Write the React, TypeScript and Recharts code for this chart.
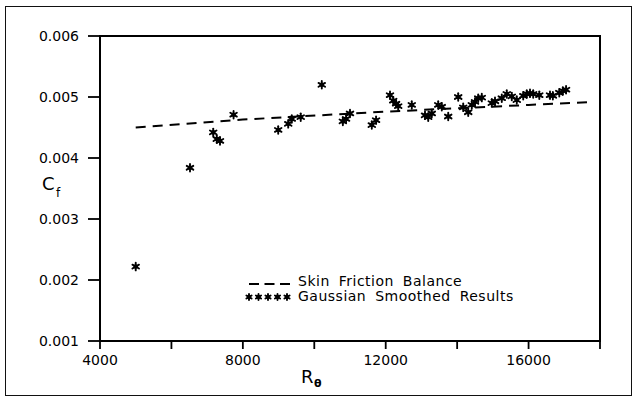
import React from 'react';
import { ComposedChart, Line, Scatter, XAxis, YAxis, ReferenceArea } from 'recharts';

// Gaussian smoothed results (R_theta, Cf)
const smoothedR = [
  5000, 6520, 7170, 7270, 7360, 7740, 8990, 9270, 9370, 9620,
  10210, 10800, 10890, 11000, 11610, 11730, 12120, 12210, 12290, 12350,
  12730, 13100, 13190, 13290, 13470, 13570, 13750, 14030, 14170, 14310,
  14410, 14500, 14590, 14690, 14970, 15060, 15250, 15390, 15530, 15670,
  15850, 15950, 16040, 16130, 16300, 16600, 16680, 16860, 16960, 17050,
];
const smoothedCf = [
  0.00222, 0.00384, 0.00442, 0.00431, 0.00428, 0.00471, 0.00446, 0.00456, 0.00464, 0.00467,
  0.0052, 0.0046, 0.00464, 0.00473, 0.00454, 0.00462, 0.00503, 0.00494, 0.00489, 0.00485,
  0.00487, 0.0047, 0.00467, 0.00473, 0.00487, 0.00484, 0.00468, 0.005, 0.00483, 0.00475,
  0.00487, 0.00492, 0.00498, 0.00499, 0.0049, 0.00493, 0.00498, 0.00505, 0.00501, 0.00495,
  0.00502, 0.00505, 0.00506, 0.00505, 0.00503, 0.00503, 0.00502, 0.00507, 0.0051, 0.00512,
];

// Skin friction balance (dashed)
const balanceR = [5000, 8000, 12000, 16000, 17800];
const balanceCf = [0.0045, 0.00463, 0.00476, 0.00487, 0.00492];

const xTicks = [4000, 6000, 8000, 10000, 12000, 14000, 16000, 18000];
const yTicks = [0.001, 0.002, 0.003, 0.004, 0.005, 0.006];

const smoothed = smoothedR.map((x, i) => ({ x, y: smoothedCf[i] }));
const balance = balanceR.map((x, i) => ({ x, y: balanceCf[i] }));

const FONT = '"DejaVu Sans", Arial, sans-serif';

function Star({ cx, cy, r = 3.8 }: { cx?: number; cy?: number; r?: number }) {
  if (cx == null || cy == null) return null;
  const d = r * 0.866;
  return (
    <g stroke="#000" strokeWidth={1.9} strokeLinecap="round">
      <line x1={cx} y1={cy - r} x2={cx} y2={cy + r} />
      <line x1={cx - d} y1={cy - r / 2} x2={cx + d} y2={cy + r / 2} />
      <line x1={cx - d} y1={cy + r / 2} x2={cx + d} y2={cy - r / 2} />
      <circle cx={cx} cy={cy} r={2.3} fill="#000" stroke="none" />
    </g>
  );
}

// legend drawn as an overlay so it doesn't eat into the plot area
function LegendBox() {
  const txt: React.CSSProperties = { fontFamily: FONT, fontSize: 14, color: '#000', letterSpacing: 0.5, wordSpacing: 4, lineHeight: '15px' };
  return (
    <div style={{ position: 'absolute', left: 244, top: 274, display: 'flex', flexDirection: 'column' }}>
      <div style={{ display: 'flex', alignItems: 'center', height: 15 }}>
        <svg width={54} height={15}>
          <line x1={5} y1={10} x2={46} y2={10} stroke="#000" strokeWidth={1.8} strokeDasharray="10 5.5" />
        </svg>
        <span style={txt}>Skin Friction Balance</span>
      </div>
      <div style={{ display: 'flex', alignItems: 'center', height: 15 }}>
        <svg width={54} height={15}>
          {[0, 1, 2, 3, 4].map(i => (
            <Star key={i} cx={5 + i * 9.5} cy={8} r={3} />
          ))}
        </svg>
        <span style={txt}>Gaussian Smoothed Results</span>
      </div>
    </div>
  );
}

export default function App() {
  return (
    <div style={{ position: 'absolute', left: 0, top: 0, width: 636, height: 400, background: '#fff' }}>
      <div style={{ position: 'absolute', left: 5, top: 6, width: 625, height: 388, border: '1.5px solid #111' }} />
      <ComposedChart width={636} height={400} margin={{ top: 36, right: 36, bottom: 0, left: 0 }}>
        <XAxis
          type="number"
          dataKey="x"
          domain={[4000, 18000]}
          ticks={xTicks}
          interval={0}
          allowDataOverflow
          height={59}
          tickSize={8}
          tickMargin={6}
          axisLine={{ stroke: '#000', strokeWidth: 2 }}
          tickLine={{ stroke: '#000', strokeWidth: 1.8 }}
          tick={{ fill: '#000', fontFamily: FONT, fontSize: 14 }}
          tickFormatter={(v: number) => (v % 4000 === 0 ? `${v}` : '')}
        />
        <YAxis
          type="number"
          dataKey="y"
          domain={[0.001, 0.006]}
          ticks={yTicks}
          interval={0}
          allowDataOverflow
          width={100}
          tickSize={12}
          tickMargin={9}
          axisLine={{ stroke: '#000', strokeWidth: 2 }}
          tickLine={{ stroke: '#000', strokeWidth: 1.8 }}
          tick={{ fill: '#000', fontFamily: FONT, fontSize: 14 }}
          tickFormatter={(v: number) => v.toFixed(3)}
        />
        <ReferenceArea x1={4000} x2={18000} y1={0.001} y2={0.006} fill="none" stroke="#000" strokeWidth={2} />
        <Line
          data={balance}
          dataKey="y"
          type="linear"
          stroke="#000"
          strokeWidth={2}
          strokeDasharray="10 7"
          dot={false}
          isAnimationActive={false}
          legendType="none"
        />
        <Scatter data={smoothed} dataKey="y" shape={<Star />} isAnimationActive={false} legendType="none" />
      </ComposedChart>
      <LegendBox />
      <svg width={636} height={400} style={{ position: 'absolute', left: 0, top: 0, pointerEvents: 'none' }}>
        <text x={42} y={190} fontFamily={FONT} fontSize={18} fill="#000">C</text>
        <text x={56} y={197} fontFamily={FONT} fontSize={12} fill="#000">f</text>
        <text x={301} y={383} fontFamily={FONT} fontSize={18} fill="#000">R</text>
        <text x={314} y={387} fontFamily={FONT} fontSize={11} fontWeight="bold" fill="#000">θ</text>
      </svg>
    </div>
  );
}
